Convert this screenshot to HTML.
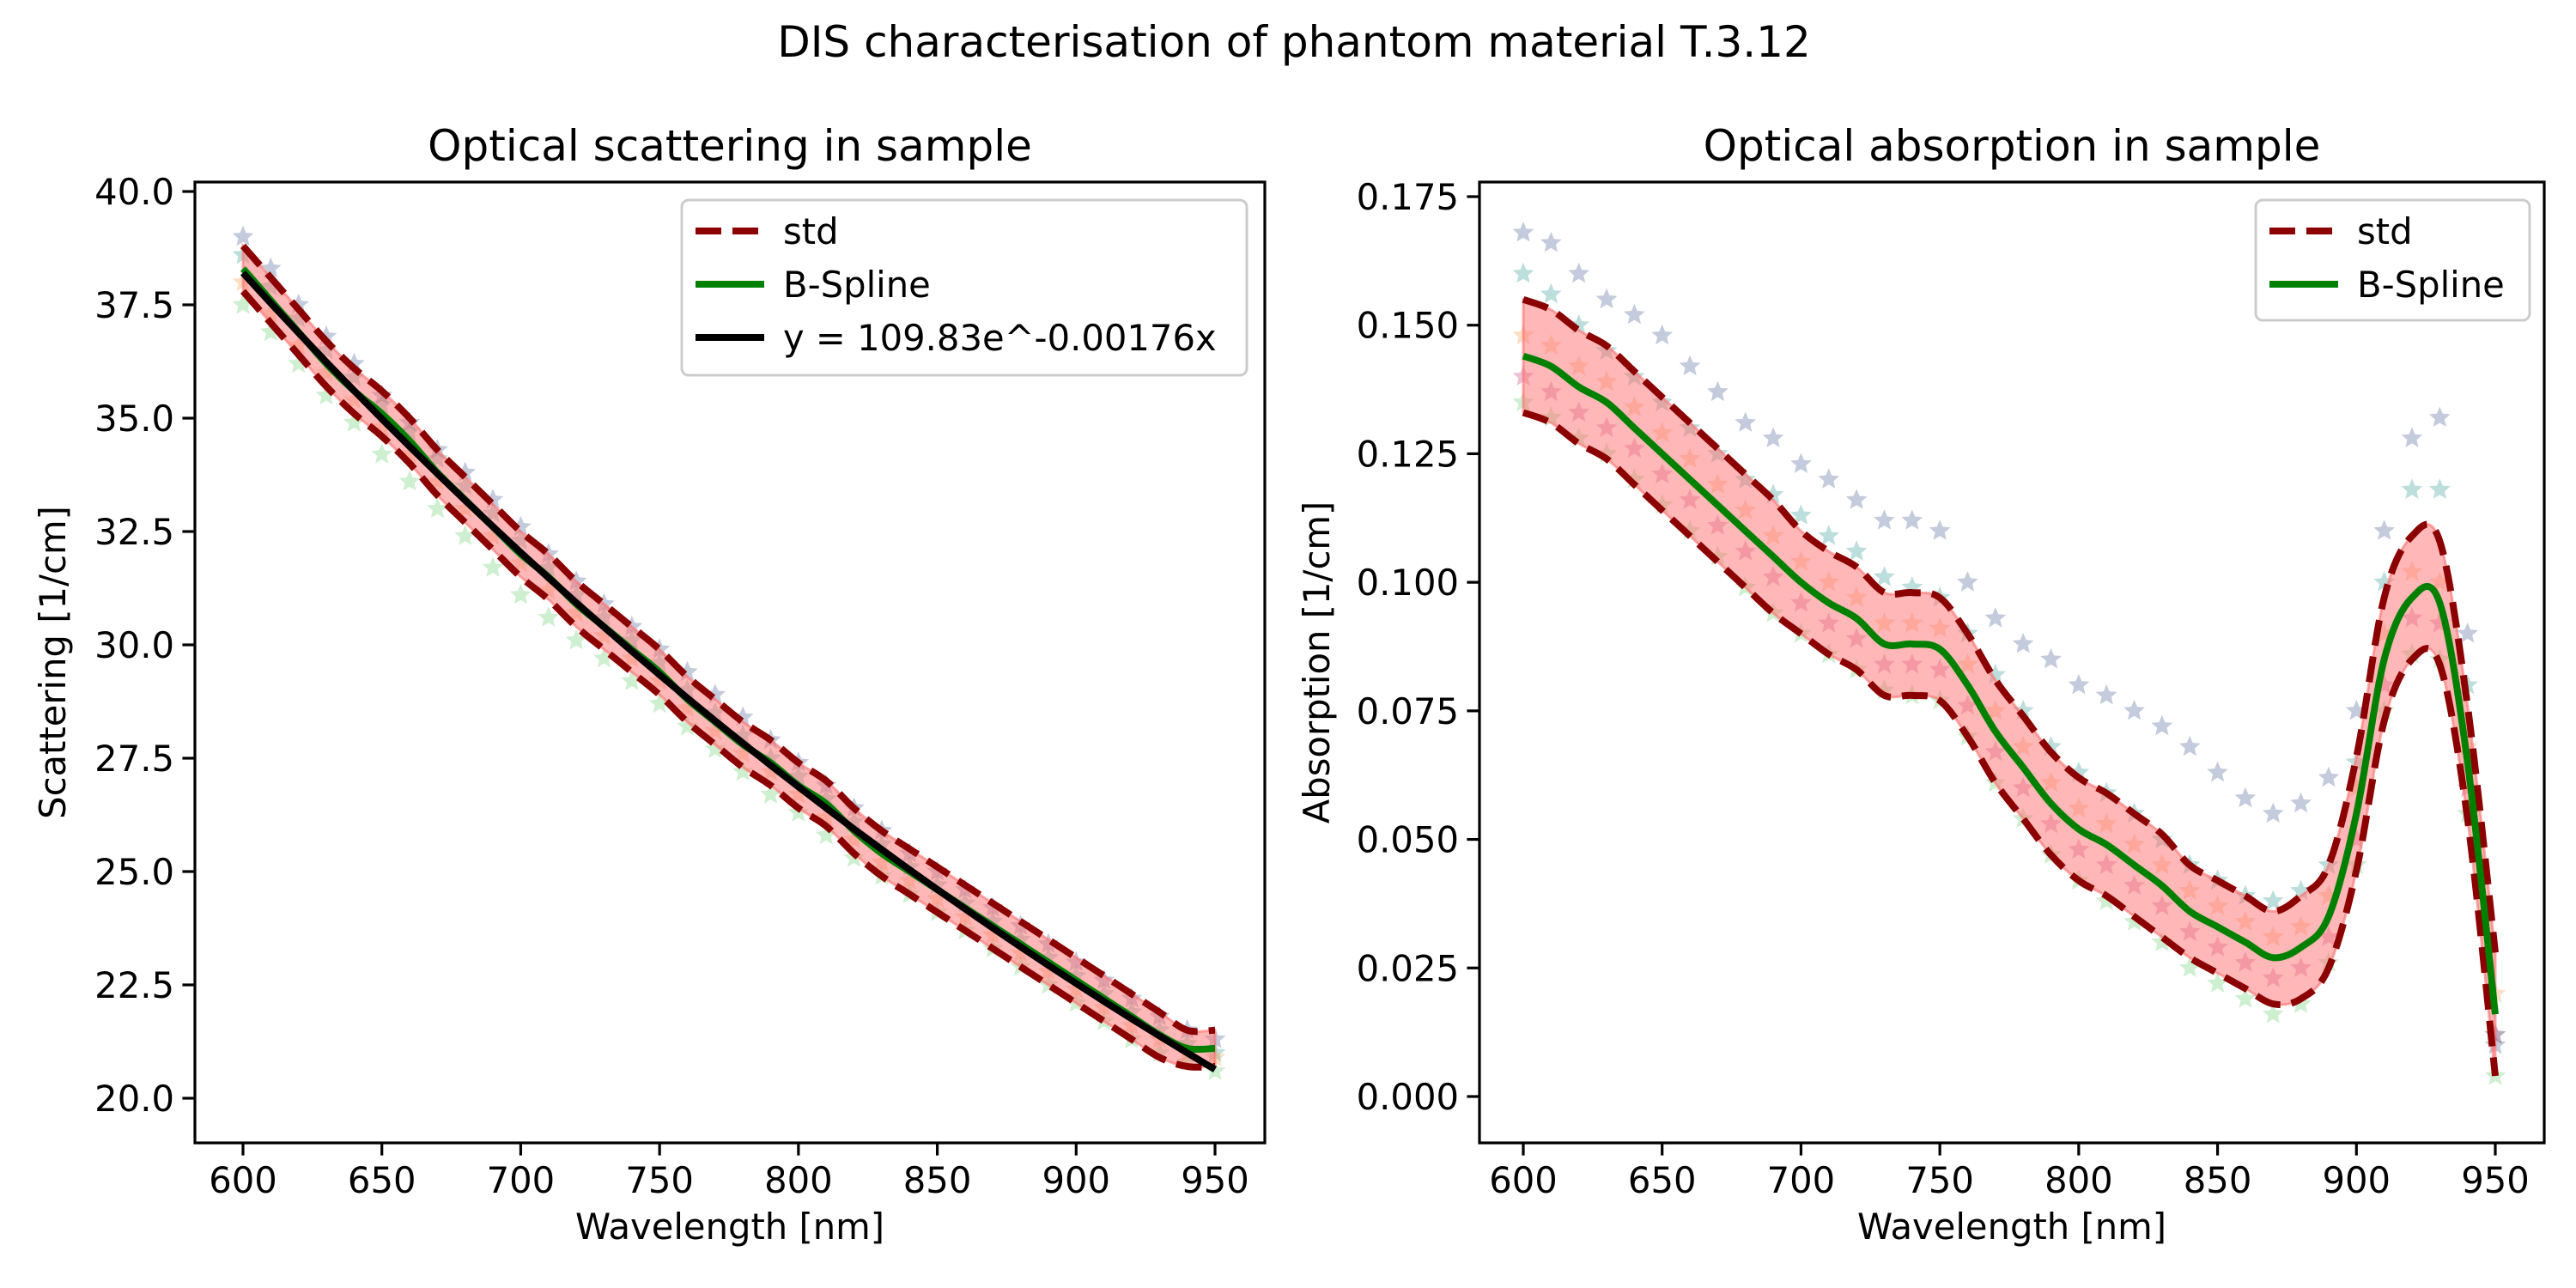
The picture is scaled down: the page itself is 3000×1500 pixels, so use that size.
<!DOCTYPE html>
<html><head><meta charset="utf-8"><style>
body{margin:0;background:#fff}
svg{display:block;font-family:"DejaVu Sans","Liberation Sans",sans-serif}
</style></head><body>
<svg id="fig" width="3000" height="1500" viewBox="0 0 3000 1500" xmlns="http://www.w3.org/2000/svg">
<rect width="3000" height="1500" fill="#fff"/>
<text x="1507" y="66" font-size="50" text-anchor="middle">DIS characterisation of phantom material T.3.12</text>
<g id="left"></g>
<g id="right"></g>
</svg>
<script>
// ---------- data ----------
const wl = [600,610,620,630,640,650,660,670,680,690,700,710,720,730,740,750,760,770,780,790,800,810,820,830,840,850,860,870,880,890,900,910,920,930,940,950];
// scattering
const fitA = 109.83, fitB = -0.00176;
const scatSpline = [38.3,37.6,36.9,36.2,35.6,35.1,34.5,33.8,33.2,32.6,32.0,31.5,30.9,30.4,29.9,29.4,28.8,28.3,27.8,27.4,26.9,26.5,25.9,25.4,25.0,24.6,24.2,23.8,23.4,23.0,22.6,22.2,21.8,21.4,21.1,21.1];
const scatStd = [0.5,0.5,0.5,0.5,0.5,0.5,0.5,0.5,0.5,0.5,0.5,0.5,0.5,0.5,0.5,0.5,0.5,0.5,0.5,0.5,0.5,0.5,0.5,0.5,0.5,0.5,0.5,0.5,0.5,0.5,0.5,0.5,0.5,0.5,0.4,0.4];
const scatPurple = [39.0,38.3,37.5,36.8,36.2,35.5,34.9,34.3,33.8,33.2,32.6,32.0,31.4,30.9,30.4,29.9,29.4,28.9,28.4,27.9,27.4,26.9,26.4,25.9,25.4,25.0,24.6,24.2,23.8,23.4,23.0,22.6,22.2,21.8,21.5,21.3];
const scatTeal = [38.6,37.9,37.2,36.5,35.9,35.3,34.7,34.1,33.5,32.9,32.3,31.7,31.1,30.6,30.1,29.6,29.0,28.5,28.0,27.5,27.1,26.6,26.1,25.6,25.1,24.7,24.3,23.9,23.5,23.1,22.7,22.3,21.9,21.5,21.2,21.0];
const scatGreen = [37.5,36.9,36.2,35.5,34.9,34.2,33.6,33.0,32.4,31.7,31.1,30.6,30.1,29.7,29.2,28.7,28.2,27.7,27.2,26.7,26.3,25.8,25.3,24.9,24.5,24.1,23.7,23.3,22.9,22.5,22.1,21.7,21.3,21.0,20.8,20.6];
const scatOrange = [38.0,37.3,36.6,36.0,35.4,34.8,34.2,33.6,33.0,32.4,31.8,31.2,30.7,30.2,29.7,29.2,28.6,28.1,27.6,27.2,26.7,26.2,25.7,25.2,24.8,24.4,24.0,23.6,23.2,22.8,22.4,22.0,21.6,21.3,21.0,20.9];
// absorption
const absSpline = [0.144,0.142,0.138,0.135,0.130,0.125,0.120,0.115,0.110,0.105,0.100,0.096,0.093,0.088,0.088,0.087,0.080,0.071,0.064,0.057,0.052,0.049,0.045,0.041,0.036,0.033,0.030,0.027,0.029,0.035,0.055,0.085,0.097,0.096,0.065,0.016];
const absStd = [0.011,0.011,0.011,0.011,0.011,0.011,0.011,0.011,0.011,0.011,0.010,0.010,0.010,0.010,0.010,0.010,0.010,0.010,0.010,0.010,0.010,0.010,0.010,0.010,0.009,0.009,0.009,0.009,0.010,0.010,0.011,0.012,0.012,0.012,0.011,0.012];
const absPurple = [0.168,0.166,0.160,0.155,0.152,0.148,0.142,0.137,0.131,0.128,0.123,0.120,0.116,0.112,0.112,0.110,0.100,0.093,0.088,0.085,0.080,0.078,0.075,0.072,0.068,0.063,0.058,0.055,0.057,0.062,0.075,0.110,0.128,0.132,0.090,0.010];
const absTeal = [0.160,0.156,0.150,0.145,0.140,0.135,0.130,0.125,0.120,0.117,0.113,0.109,0.106,0.101,0.099,0.097,0.090,0.082,0.075,0.068,0.063,0.059,0.055,0.050,0.045,0.042,0.039,0.038,0.040,0.045,0.065,0.100,0.118,0.118,0.080,0.012];
const absMagenta = [0.140,0.137,0.133,0.130,0.126,0.121,0.116,0.111,0.106,0.101,0.096,0.092,0.089,0.084,0.084,0.083,0.076,0.067,0.060,0.053,0.048,0.045,0.041,0.037,0.032,0.029,0.026,0.023,0.025,0.031,0.050,0.080,0.093,0.092,0.060,0.012];
const absOrange = [0.148,0.146,0.142,0.139,0.134,0.129,0.124,0.119,0.114,0.109,0.104,0.100,0.097,0.092,0.092,0.091,0.084,0.075,0.068,0.061,0.056,0.053,0.049,0.045,0.040,0.037,0.034,0.031,0.033,0.039,0.060,0.090,0.102,0.100,0.068,0.020];
const absGreen = [0.135,0.132,0.128,0.125,0.120,0.115,0.110,0.105,0.099,0.094,0.090,0.086,0.083,0.079,0.078,0.077,0.070,0.061,0.054,0.047,0.042,0.038,0.034,0.030,0.025,0.022,0.019,0.016,0.018,0.026,0.045,0.075,0.086,0.085,0.055,0.004];
const xTicks = [600,650,700,750,800,850,900,950];
const scatYTicks = [20.0,22.5,25.0,27.5,30.0,32.5,35.0,37.5,40.0];
const absYTicks = [0.000,0.025,0.050,0.075,0.100,0.125,0.150,0.175];

const NS = "http://www.w3.org/2000/svg";
function mk(parent, tag, attrs, text){
  const e = document.createElementNS(NS, tag);
  for (const k in attrs) e.setAttribute(k, attrs[k]);
  if (text !== undefined) e.textContent = text;
  parent.appendChild(e);
  return e;
}
function linScale(d0,d1,r0,r1){ return v => r0 + (v-d0)/(d1-d0)*(r1-r0); }
function starPts(cx,cy,r){
  let p=[];
  for(let i=0;i<10;i++){
    const a = -Math.PI/2 + i*Math.PI/5;
    const rr = i%2===0 ? r : r*0.45;
    p.push((cx+rr*Math.cos(a)).toFixed(1)+","+(cy+rr*Math.sin(a)).toFixed(1));
  }
  return p.join(" ");
}
function smoothPath(xs, ys, sx, sy){
  const P = xs.map((x,i)=>[sx(x),sy(ys[i])]);
  let d = "M"+P[0][0].toFixed(1)+" "+P[0][1].toFixed(1);
  for(let i=0;i<P.length-1;i++){
    const p0=P[Math.max(0,i-1)],p1=P[i],p2=P[i+1],p3=P[Math.min(P.length-1,i+2)];
    const c1=[p1[0]+(p2[0]-p0[0])/6,p1[1]+(p2[1]-p0[1])/6];
    const c2=[p2[0]-(p3[0]-p1[0])/6,p2[1]-(p3[1]-p1[1])/6];
    d+=" C"+c1.map(v=>v.toFixed(1)).join(" ")+" "+c2.map(v=>v.toFixed(1)).join(" ")+" "+p2[0].toFixed(1)+" "+p2[1].toFixed(1);
  }
  return d;
}
function pathOf(xs, ys, sx, sy){
  return xs.map((x,i)=>(i?"L":"M")+sx(x).toFixed(1)+" "+sy(ys[i]).toFixed(1)).join(" ");
}

function drawChart(g, cfg){
  const {L,T,R,B,sx,sy,yTicks,yFmt,title,ylabel} = cfg;
  const clipId = cfg.id+"-clip";
  const defs = mk(g,"defs",{});
  const cp = mk(defs,"clipPath",{id:clipId});
  mk(cp,"rect",{x:L,y:T,width:R-L,height:B-T});
  const plot = mk(g,"g",{"clip-path":"url(#"+clipId+")"});
  
  
  cfg.scatter.forEach(s=>{
    const sg = mk(plot,"g",{fill:s.color,"fill-opacity":0.3});
    
    
    s.vals.forEach((v,i)=>{
      const st = mk(sg,"polygon",{points:starPts(sx(wl[i]),sy(v),13)});
      
      
    });
  });
  const up = cfg.spline.map((v,i)=>v+cfg.std[i]);
  const lo = cfg.spline.map((v,i)=>v-cfg.std[i]);
  const upD = smoothPath(wl,up,sx,sy);
  const loRevD = smoothPath(wl.slice().reverse(),lo.slice().reverse(),sx,sy);
  const bandD = upD + " L" + loRevD.slice(1) + " Z";
  const band = mk(plot,"path",{d:bandD,fill:"#ff6f6f","fill-opacity":0.5,stroke:"#ff6f6f","stroke-opacity":0.6,"stroke-width":3});
  
  
  const dashA = {fill:"none",stroke:"#8b0000","stroke-width":8,"stroke-dasharray":"30 13"};
  const u = mk(plot,"path",Object.assign({d:upD},dashA));
  
  
  const l = mk(plot,"path",Object.assign({d:smoothPath(wl,lo,sx,sy)},dashA));
  
  
  const sp = mk(plot,"path",{d:smoothPath(wl,cfg.spline,sx,sy),fill:"none",stroke:"#008000","stroke-width":8,"stroke-linejoin":"round"});
  
  
  if(cfg.fit){
    const fy = wl.map(x=>fitA*Math.exp(fitB*x));
    const fl = mk(plot,"path",{d:pathOf(wl,fy,sx,sy),fill:"none",stroke:"#000","stroke-width":8});
    
    
  }
  const fr = mk(g,"rect",{x:L,y:T,width:R-L,height:B-T,fill:"none",stroke:"#000","stroke-width":3.2});
  
  
  const xa = mk(g,"g",{});
  
  
  xTicks.forEach(t=>{
    const x=sx(t);
    mk(xa,"line",{x1:x,x2:x,y1:B,y2:B+14.6,stroke:"#000","stroke-width":3.2});
    const tx = mk(xa,"text",{x:x,y:B+58,"font-size":41.7,"text-anchor":"middle"},String(t));
    
    
  });
  const xl = mk(g,"text",{x:(L+R)/2,y:B+112,"font-size":41.7,"text-anchor":"middle"},"Wavelength [nm]");
  
  
  const ya = mk(g,"g",{});
  
  
  yTicks.forEach(t=>{
    const y=sy(t);
    mk(ya,"line",{x1:L-14.6,x2:L,y1:y,y2:y,stroke:"#000","stroke-width":3.2});
    const tx = mk(ya,"text",{x:L-24,y:y+15,"font-size":41.7,"text-anchor":"end"},yFmt(t));
    
    
  });
  const yl = mk(g,"text",{x:0,y:0,"font-size":41.7,"text-anchor":"middle",transform:`translate(${cfg.ylabX},${(T+B)/2}) rotate(-90)`},ylabel);
  
  
  const tt = mk(g,"text",{x:(L+R)/2,y:T-25,"font-size":50,"text-anchor":"middle"},title);
  
  
  const lg = mk(g,"g",{});
  
  
  const Lg = cfg.legend;
  mk(lg,"rect",{x:Lg.x,y:Lg.y,width:Lg.w,height:Lg.h,rx:8,fill:"#fff","fill-opacity":0.8,stroke:"#ccc","stroke-width":3});
  Lg.items.forEach((it,i)=>{
    const y = Lg.y+36+i*62;
    const e = mk(lg,"g",{});
    
    
    const a = {x1:Lg.x+16,x2:Lg.x+96,y1:y,y2:y,stroke:it.color,"stroke-width":8};
    if(it.dash) a["stroke-dasharray"]="30 13";
    mk(e,"line",a);
    mk(e,"text",{x:Lg.x+118,y:y+15,"font-size":41.7},it.label);
  });
}

const sxL = linScale(600,950,283,1415);
const syL = linScale(20,40,1279,223);
drawChart(document.getElementById("left"),{
  id:"scattering",L:227,T:212,R:1473,B:1331,sx:sxL,sy:syL,yTicks:scatYTicks,yFmt:v=>v.toFixed(1),
  title:"Optical scattering in sample",ylabel:"Scattering [1/cm]",ylabX:76,
  spline:scatSpline,std:scatStd,fit:true,
  scatter:[{name:"purple",color:"#3b528b",vals:scatPurple},{name:"teal",color:"#21918c",vals:scatTeal},{name:"green",color:"#5ec962",vals:scatGreen},{name:"orange",color:"#f89540",vals:scatOrange}],
  legend:{x:794,y:233,w:658,h:204,items:[{key:"std",label:"std",color:"#8b0000",dash:true},{key:"bspline",label:"B-Spline",color:"#008000"},{key:"fit",label:"y = 109.83e^-0.00176x",color:"#000"}]}
});
const sxR = linScale(600,950,1774,2906);
const syR = linScale(0,0.175,1277,229);
drawChart(document.getElementById("right"),{
  id:"absorption",L:1723,T:212,R:2963,B:1331,sx:sxR,sy:syR,yTicks:absYTicks,yFmt:v=>v.toFixed(3),
  title:"Optical absorption in sample",ylabel:"Absorption [1/cm]",ylabX:1548,
  spline:absSpline,std:absStd,fit:false,
  scatter:[{name:"purple",color:"#3b528b",vals:absPurple},{name:"teal",color:"#21918c",vals:absTeal},{name:"green",color:"#5ec962",vals:absGreen},{name:"magenta",color:"#b5367a",vals:absMagenta},{name:"orange",color:"#f89540",vals:absOrange}],
  legend:{x:2627,y:233,w:319,h:140,items:[{key:"std",label:"std",color:"#8b0000",dash:true},{key:"bspline",label:"B-Spline",color:"#008000"}]}
});
</script>
</body></html>
